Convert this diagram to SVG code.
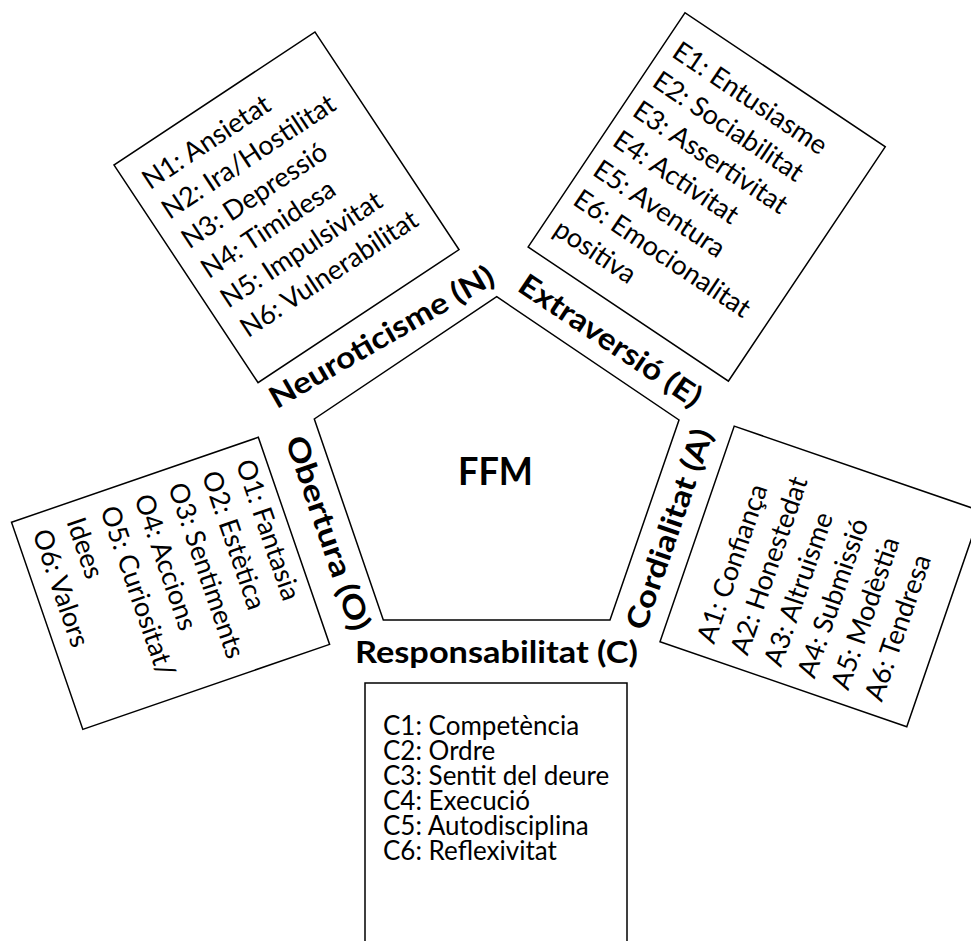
<svg xmlns="http://www.w3.org/2000/svg" width="971" height="941" viewBox="0 0 971 941">
  <style>
    .shape { fill: #ffffff; stroke: #000000; stroke-width: 1.5; }
    .item { font-family: Lato, "Liberation Sans", sans-serif; font-size: 27px; fill: #000000; }
    .item-c { font-family: Lato, "Liberation Sans", sans-serif; font-size: 26px; fill: #000000; }
    .trait { font-family: Lato, "Liberation Sans", sans-serif; font-size: 30px; font-weight: bold; fill: #000000; }
    .title { font-family: Lato, "Liberation Sans", sans-serif; font-size: 39px; font-weight: bold; fill: #000000; }
  </style>
  <rect width="971" height="941" fill="#ffffff"/>

  <!-- central pentagon -->
  <g id="ffm">
    <polygon class="shape" points="496.7,296.7 679,420 610,620 383.3,620 314.3,419"/>
    <text class="title" x="458" y="485" textLength="75" lengthAdjust="spacingAndGlyphs">FFM</text>
  </g>

  <!-- trait names along the pentagon edges -->
  <g id="trait-labels">
    <text class="trait" transform="translate(276.7,409.3) rotate(-30)" textLength="254" lengthAdjust="spacingAndGlyphs">Neuroticisme (N)</text>
    <text class="trait" transform="translate(516,290) rotate(33.8)" textLength="213" lengthAdjust="spacingAndGlyphs">Extraversió (E)</text>
    <text class="trait" transform="translate(645,631.7) rotate(-71)" textLength="210" lengthAdjust="spacingAndGlyphs">Cordialitat (A)</text>
    <text class="trait" transform="translate(285,440) rotate(71)" textLength="204" lengthAdjust="spacingAndGlyphs">Obertura (O)</text>
    <text class="trait" x="355" y="663" textLength="283" lengthAdjust="spacingAndGlyphs">Responsabilitat (C)</text>
  </g>

  <!-- facet boxes -->
  <g id="box-n" transform="translate(114,165) rotate(-33.5)">
    <rect class="shape" x="0" y="0" width="241" height="261"/>
    <text class="item" x="16" y="41">N1: Ansietat</text>
    <text class="item" x="16" y="76.5">N2: Ira/Hostilitat</text>
    <text class="item" x="16" y="112">N3: Depressió</text>
    <text class="item" x="16" y="147.5">N4: Timidesa</text>
    <text class="item" x="16" y="183">N5: Impulsivitat</text>
    <text class="item" x="16" y="218.5">N6: Vulnerabilitat</text>
  </g>

  <g id="box-e" transform="translate(685,12.7) rotate(33.8)">
    <rect class="shape" x="0" y="0" width="241" height="282"/>
    <text class="item" x="12" y="44">E1: Entusiasme</text>
    <text class="item" x="12" y="79.6">E2: Sociabilitat</text>
    <text class="item" x="12" y="115.2">E3: Assertivitat</text>
    <text class="item" x="12" y="150.8">E4: Activitat</text>
    <text class="item" x="12" y="186.4">E5: Aventura</text>
    <text class="item" x="12" y="222">E6: Emocionalitat</text>
    <text class="item" x="12" y="257.6">positiva</text>
  </g>

  <g id="box-o" transform="translate(258.3,437.3) rotate(71)">
    <rect class="shape" x="0" y="0" width="219" height="261"/>
    <text class="item" x="17" y="30">O1: Fantasia</text>
    <text class="item" x="17" y="65.8">O2: Estètica</text>
    <text class="item" x="17" y="101.6">O3: Sentiments</text>
    <text class="item" x="17" y="137.4">O4: Accions</text>
    <text class="item" x="17" y="173.2">O5: Curiositat/</text>
    <text class="item" x="17" y="209">Idees</text>
    <text class="item" x="17" y="244.8">O6: Valors</text>
  </g>

  <g id="box-a" transform="translate(660,641.7) rotate(-71)">
    <rect class="shape" x="0" y="0" width="228" height="261"/>
    <text class="item" x="14.5" y="52">A1: Confiança</text>
    <text class="item" x="14.5" y="87.5">A2: Honestedat</text>
    <text class="item" x="14.5" y="123">A3: Altruisme</text>
    <text class="item" x="14.5" y="158.5">A4: Submissió</text>
    <text class="item" x="14.5" y="194">A5: Modèstia</text>
    <text class="item" x="14.5" y="229.5">A6: Tendresa</text>
  </g>

  <g id="box-c">
    <rect class="shape" x="365" y="683" width="262" height="270"/>
    <text class="item-c" x="383" y="735">C1: Competència</text>
    <text class="item-c" x="383" y="760">C2: Ordre</text>
    <text class="item-c" x="383" y="785">C3: Sentit del deure</text>
    <text class="item-c" x="383" y="810">C4: Execució</text>
    <text class="item-c" x="383" y="835">C5: Autodisciplina</text>
    <text class="item-c" x="383" y="860">C6: Reflexivitat</text>
  </g>
</svg>
